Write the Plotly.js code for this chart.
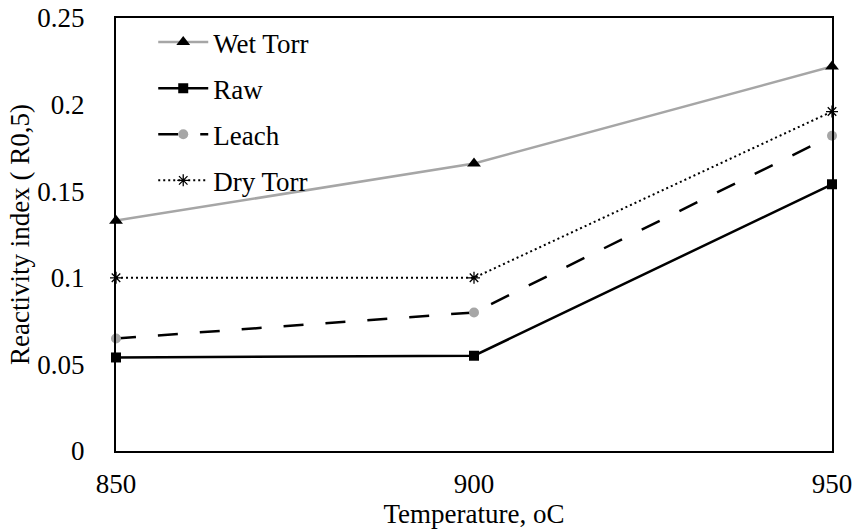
<!DOCTYPE html>
<html>
<head>
<meta charset="utf-8">
<script src="https://cdn.plot.ly/plotly-3.0.1.min.js"></script>
<style>html,body{margin:0;padding:0;background:#fff;}#chart{width:854px;height:530px;}</style>
</head>
<body>
<div id="chart"></div>
<script>
const temperatures = [850, 900, 950];
const wetTorr = [0.133, 0.166, 0.222];
const raw = [0.054, 0.055, 0.154];
const leach = [0.065, 0.080, 0.182];
const dryTorr = [0.100, 0.100, 0.196];
const seriesNames = ['Wet Torr', 'Raw', 'Leach', 'Dry Torr'];
const xTicks = [850, 900, 950];
const yTicks = [0, 0.05, 0.1, 0.15, 0.2, 0.25];

const FAMILY = 'Times New Roman';
const mkFont = () => ({family: FAMILY, size: 27, color: '#000'});

const traces = [
  {x: temperatures, y: wetTorr, name: seriesNames[0], legendgroup: 'a', mode: 'lines+markers', cliponaxis: false,
   line: {color: '#A6A6A6', width: 2.5}, marker: {symbol: 'triangle-up', size: 12, color: '#000'}},
  {x: temperatures, y: raw, name: seriesNames[1], legendgroup: 'b', mode: 'lines+markers', cliponaxis: false,
   line: {color: '#000', width: 2.5}, marker: {symbol: 'square', size: 10, color: '#000'}},
  {x: temperatures, y: leach, name: seriesNames[2], legendgroup: 'c', mode: 'lines+markers', cliponaxis: false,
   line: {color: '#000', width: 2.5, dash: '20px,22px'}, marker: {symbol: 'circle', size: 10, color: '#A6A6A6'}},
  {x: temperatures, y: dryTorr, name: seriesNames[3], legendgroup: 'd', mode: 'lines+markers', cliponaxis: false,
   line: {color: '#000', width: 2, dash: '2px,3px'}, marker: {symbol: 'asterisk-open', size: 10, color: '#000', line: {color: '#000', width: 1.3}}}
];

const layout = {
  width: 854, height: 530,
  margin: {l: 116, r: 22, t: 18, b: 79},
  paper_bgcolor: '#fff', plot_bgcolor: '#fff',
  font: mkFont(),
  showlegend: true,
  legend: {x: 0.052, y: 1.0, xanchor: 'left', yanchor: 'top', bgcolor: 'rgba(0,0,0,0)',
           font: mkFont(), tracegroupgap: 8, itemwidth: 50},
  xaxis: {range: [850, 950], tickvals: xTicks, ticktext: xTicks.map(String), showgrid: false, zeroline: false,
          showline: true, linecolor: '#000', linewidth: 2, mirror: true, ticks: '', ticklabelstandoff: 8,
          tickfont: mkFont(),
          title: {text: 'Temperature, oC', font: mkFont(), standoff: 0}, automargin: false},
  yaxis: {range: [0, 0.25], tickvals: yTicks, ticktext: yTicks.map(String), showgrid: false, zeroline: false,
          showline: true, linecolor: '#000', linewidth: 2, mirror: true, ticks: '', ticklabelstandoff: 24,
          tickfont: mkFont(),
          title: {text: 'Reactivity index ( R0,5)', font: mkFont(), standoff: 0}, automargin: false}
};

Plotly.newPlot('chart', traces, layout, {displayModeBar: false, staticPlot: true});
</script>
</body>
</html>
